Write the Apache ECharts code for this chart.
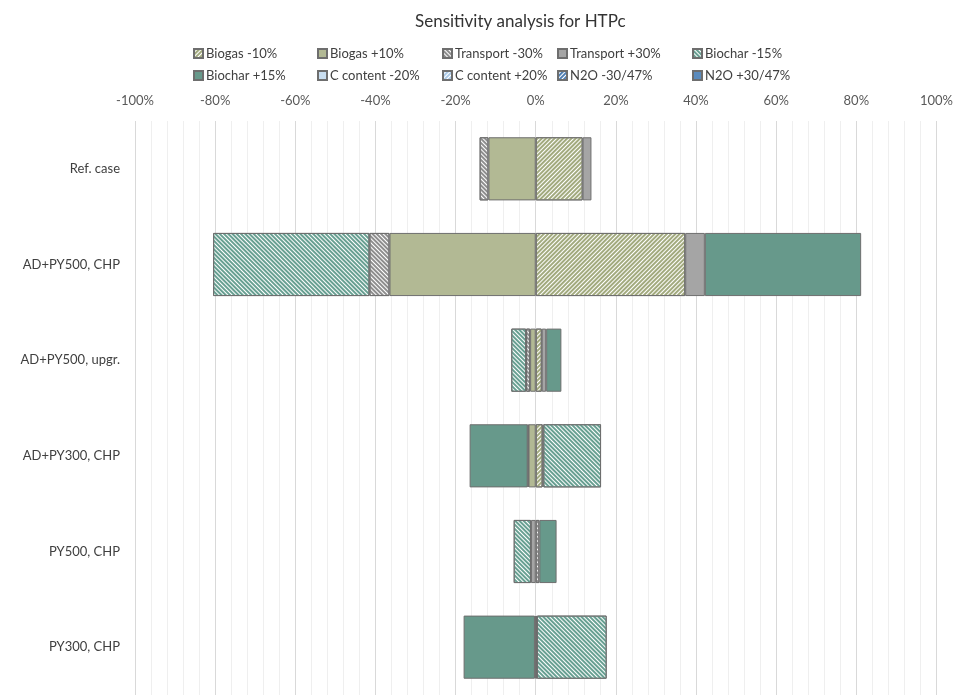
<!DOCTYPE html>
<html>
<head>
<meta charset="utf-8">
<script src="https://cdn.jsdelivr.net/npm/echarts@6/dist/echarts.min.js"></script>
<style>
  html, body { margin: 0; padding: 0; background: #fff; }
  #main { width: 956px; height: 695px; }
</style>
</head>
<body>
<div id="main"></div>
<script>
// categories (top to bottom)
var categories = ['Ref. case', 'AD+PY500, CHP', 'AD+PY500, upgr.', 'AD+PY300, CHP', 'PY500, CHP', 'PY300, CHP'];
var xTicks = [-100, -80, -60, -40, -20, 0, 20, 40, 60, 80, 100];

// change in result, %
var biogasMinus10    = [11.7, 37.3, 1.5, 1.7, null, null];
var biogasPlus10     = [-11.8, -36.5, -1.4, -1.8, null, null];
var transportMinus30 = [-2.2, -5.0, -1.0, -0.2, 0.9, 0.3];
var transportPlus30  = [2.2, 4.9, 1.1, 0.2, -1.2, -0.2];
var biocharMinus15   = [null, -39.0, -3.7, 14.4, -4.3, 17.4];
var biocharPlus15    = [null, 39.0, 3.8, -14.5, 4.3, -17.8];
var cContentMinus20  = [null, null, null, null, null, null];
var cContentPlus20   = [null, null, null, null, null, null];
var n2oMinus         = [null, null, null, null, null, null];
var n2oPlus          = [null, null, null, null, null, null];

var seriesNames = ['Biogas -10%', 'Biogas +10%', 'Transport -30%', 'Transport +30%', 'Biochar -15%',
                   'Biochar +15%', 'C content -20%', 'C content +20%', 'N2O -30/47%', 'N2O +30/47%'];
var seriesData = [biogasMinus10, biogasPlus10, transportMinus30, transportPlus30, biocharMinus15,
                  biocharPlus15, cContentMinus20, cContentPlus20, n2oMinus, n2oPlus];

// fill: solid colour, or white with diagonal hatch ('/' up, '\' down)
var styles = [
    { color: '#fff', hatch: '#a2aa7e', dir: 'up', line: 1.2, gap: 1 },
    { color: '#b2b994' },
    { color: '#fff', hatch: '#8e8e8e', dir: 'down', line: 1.2, gap: 1 },
    { color: '#a5a5a5' },
    { color: '#fff', hatch: '#68a092', dir: 'down', line: 1.2, gap: 0.9 },
    { color: '#67998b' },
    { color: '#c9def0' },
    { color: '#fff', hatch: '#a9c8e6', dir: 'up', line: 1.2, gap: 1 },
    { color: '#fff', hatch: '#4f7fb4', dir: 'up', line: 1.2, gap: 1 },
    { color: '#5b8bbd' }
];

// legend layout: 5 columns x 2 rows
var legendCols = [188, 312, 437, 552, 687];
var legendRows = [42, 64];

var font = 'Lato, "Liberation Sans", sans-serif';

function itemStyleFor(s) {
    var st = { color: s.color, borderColor: '#6e6e6e', borderWidth: 1 };
    if (s.hatch) {
        st.decal = {
            symbol: 'rect',
            symbolSize: 1,
            dashArrayX: [1, 0],
            dashArrayY: [s.line, s.gap],
            rotation: s.dir === 'up' ? -Math.PI / 4 : Math.PI / 4,
            color: s.hatch
        };
    }
    return st;
}

var series = seriesNames.map(function (name, i) {
    return {
        name: name,
        type: 'bar',
        stack: 'total',
        barCategoryGap: '34%',
        itemStyle: itemStyleFor(styles[i]),
        emphasis: { disabled: true },
        data: seriesData[i]
    };
});

var legends = seriesNames.map(function (name, i) {
    return {
        data: [name],
        left: legendCols[i % 5],
        top: legendRows[Math.floor(i / 5)],
        icon: 'rect',
        itemWidth: 9,
        itemHeight: 9,
        itemGap: 0,
        selectedMode: false,
        textStyle: { fontFamily: font, fontSize: 13, color: '#404040', padding: [0, 0, 0, -2] }
    };
});

var myChart = echarts.init(document.getElementById('main'));
var option = {
    animation: false,
    backgroundColor: '#fff',
    title: {
        text: 'Sensitivity analysis for HTPc',
        left: 410,
        top: 8,
        textStyle: { fontFamily: font, fontSize: 17, fontWeight: 'normal', color: '#333' }
    },
    legend: legends,
    grid: { left: 135, right: 18, top: 121, height: 579 },
    xAxis: {
        type: 'value',
        position: 'top',
        min: xTicks[0],
        max: xTicks[xTicks.length - 1],
        interval: 20,
        axisLine: { show: false },
        axisTick: { show: false },
        axisLabel: {
            formatter: '{value}%',
            fontFamily: font,
            fontSize: 13,
            color: '#595959',
            margin: 14
        },
        splitLine: { lineStyle: { color: '#d9d9d9', width: 1 } },
        minorTick: { show: false, splitNumber: 5 },
        minorSplitLine: { show: true, lineStyle: { color: '#efefef', width: 1 } }
    },
    yAxis: {
        type: 'category',
        inverse: true,
        data: categories,
        axisLine: { show: false },
        axisTick: { show: false },
        axisLabel: { fontFamily: font, fontSize: 13, color: '#404040', margin: 15 }
    },
    series: series
};
myChart.setOption(option);
</script>
</body>
</html>
